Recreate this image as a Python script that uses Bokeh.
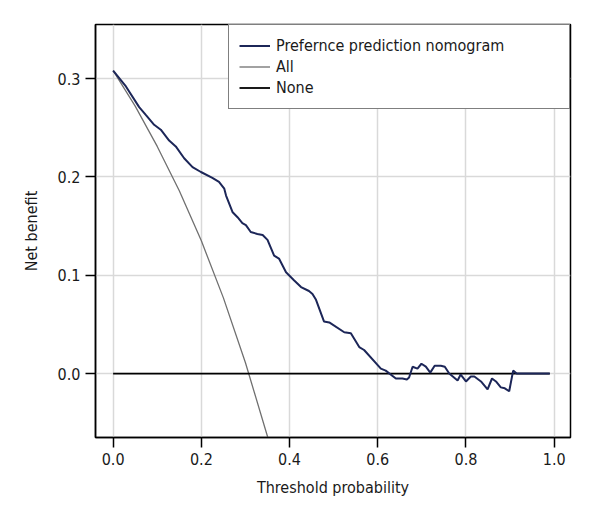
from bokeh.plotting import figure
from bokeh.models import Range1d, FixedTicker, NumeralTickFormatter, Legend, LegendItem
from bokeh.embed import file_html
from bokeh.resources import INLINE

# ---- data ----
nomo_x = [0.000, 0.029, 0.059, 0.074, 0.093, 0.108, 0.127, 0.142, 0.161, 0.180,
          0.199, 0.225, 0.240, 0.252, 0.256, 0.271, 0.282, 0.293, 0.301, 0.312,
          0.327, 0.339, 0.350, 0.365, 0.376, 0.392, 0.410, 0.426, 0.444, 0.452,
          0.460, 0.478, 0.490, 0.524, 0.539, 0.558, 0.569, 0.607, 0.618, 0.641,
          0.656, 0.666, 0.671, 0.679, 0.690, 0.699, 0.709, 0.719, 0.729, 0.743,
          0.752, 0.762, 0.781, 0.788, 0.800, 0.811, 0.819, 0.834, 0.849, 0.859,
          0.868, 0.879, 0.888, 0.898, 0.907, 0.915, 0.990]
nomo_y = [0.308, 0.292, 0.271, 0.263, 0.253, 0.248, 0.237, 0.231, 0.219, 0.210,
          0.205, 0.199, 0.195, 0.188, 0.181, 0.164, 0.159, 0.153, 0.151, 0.144,
          0.142, 0.141, 0.136, 0.120, 0.117, 0.103, 0.095, 0.088, 0.084, 0.081,
          0.075, 0.053, 0.052, 0.042, 0.041, 0.027, 0.024, 0.005, 0.003, -0.005,
          -0.005, -0.006, -0.004, 0.007, 0.005, 0.010, 0.007, 0.001, 0.008, 0.008,
          0.007, 0.000, -0.007, -0.001, -0.008, -0.003, -0.003, -0.008, -0.016, -0.005,
          -0.008, -0.014, -0.015, -0.018, 0.003, 0.000, 0.000]

all_x = [0.00, 0.05, 0.10, 0.15, 0.20, 0.25, 0.30, 0.35, 0.36]
all_y = [0.308, 0.272, 0.231, 0.186, 0.135, 0.077, 0.011, -0.064, -0.080]

none_x = [0.00, 0.99]
none_y = [0.00, 0.00]

x_ticks = [0.0, 0.2, 0.4, 0.6, 0.8, 1.0]
y_ticks = [0.0, 0.1, 0.2, 0.3]

series_names = ["Prefernce prediction nomogram", "All", "None"]

FONT = "DejaVu Sans Condensed"
FS = "16px"

p = figure(width=592, height=512, output_backend="svg", toolbar_location=None,
           x_range=Range1d(-0.04, 1.037), y_range=Range1d(-0.065, 0.355),
           min_border_left=95, min_border_right=22, min_border_top=24,
           min_border_bottom=75)

p.outline_line_color = "black"
p.outline_line_width = 1.5
p.background_fill_color = "white"
p.border_fill_color = "white"

r_all = p.line(all_x, all_y, line_color="#707070", line_width=1.3)
r_none = p.line(none_x, none_y, line_color="black", line_width=1.8)
r_nomo = p.line(nomo_x, nomo_y, line_color="#1c2658", line_width=2)

p.xaxis.ticker = FixedTicker(ticks=x_ticks)
p.yaxis.ticker = FixedTicker(ticks=y_ticks)
p.xaxis.formatter = NumeralTickFormatter(format="0.0")
p.yaxis.formatter = NumeralTickFormatter(format="0.0")

for ax in (p.xaxis, p.yaxis):
    ax.axis_line_color = "black"
    ax.axis_line_width = 1.5
    ax.major_tick_line_color = "black"
    ax.major_tick_line_width = 1.5
    ax.major_tick_out = 10
    ax.major_tick_in = 0
    ax.minor_tick_line_color = None
    ax.major_label_text_font = FONT
    ax.major_label_text_font_size = FS
    ax.major_label_text_color = "#1a1a1a"
    ax.axis_label_text_font = FONT
    ax.axis_label_text_font_size = FS
    ax.axis_label_text_font_style = "normal"
    ax.axis_label_text_color = "#1a1a1a"
    ax.major_label_standoff = 5

p.xaxis.axis_label = "Threshold probability"
p.yaxis.axis_label = "Net benefit"
p.xaxis.axis_label_standoff = 10
p.yaxis.axis_label_standoff = 14

p.xgrid.grid_line_color = "#d9d9d9"
p.ygrid.grid_line_color = "#d9d9d9"
p.xgrid.grid_line_width = 1.5
p.ygrid.grid_line_width = 1.5

legend = Legend(items=[
    LegendItem(label=series_names[0], renderers=[r_nomo]),
    LegendItem(label=series_names[1], renderers=[r_all]),
    LegendItem(label=series_names[2], renderers=[r_none]),
], location="top_right")
legend.margin = 0
legend.padding = 10
legend.spacing = 0
legend.glyph_width = 31
legend.glyph_height = 21
legend.label_height = 21
legend.label_width = 283
legend.label_standoff = 6
legend.label_text_font = FONT
legend.label_text_font_size = FS
legend.label_text_color = "#1a1a1a"
legend.border_line_color = "black"
legend.border_line_width = 1.5
legend.background_fill_color = "white"
legend.background_fill_alpha = 1.0
p.add_layout(legend)

open("out.html", "w").write(file_html(p, INLINE))
